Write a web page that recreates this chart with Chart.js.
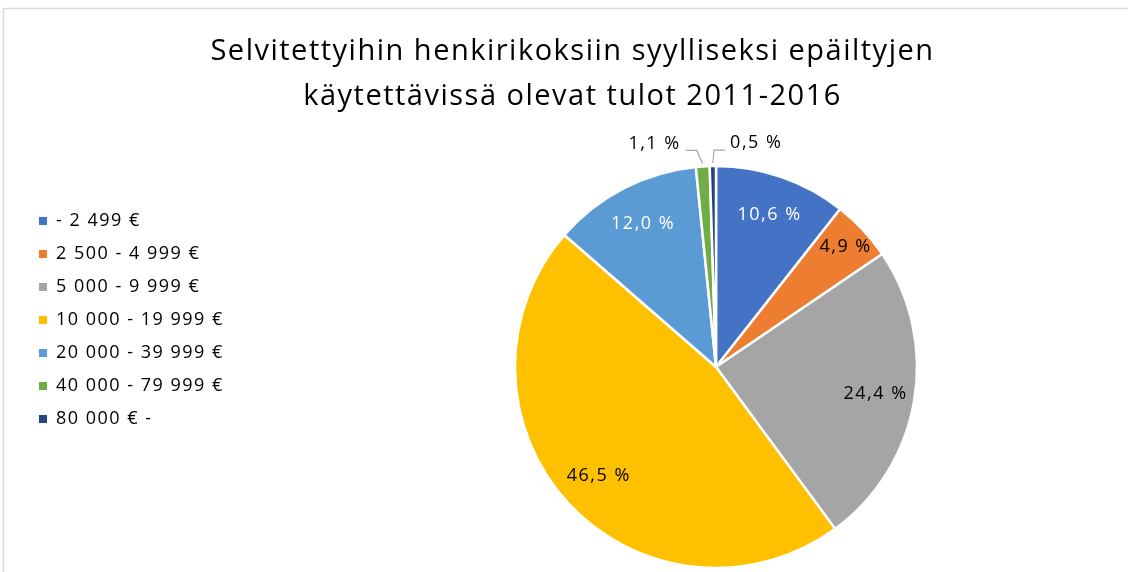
<!DOCTYPE html>
<html><head><meta charset="utf-8">
<script src="https://cdn.jsdelivr.net/npm/chart.js@4/dist/chart.umd.min.js"></script>
<style>html,body{margin:0;padding:0;background:#fff;overflow:hidden}#wrap{position:relative;width:1128px;height:572px}</style>
</head><body><div id="wrap"><canvas id="c" width="1128" height="572"></canvas></div>
<script>
const titleLines = ['Selvitettyihin henkirikoksiin syylliseksi epäiltyjen', 'käytettävissä olevat tulot 2011-2016'];
const categories = ['- 2 499 €', '2 500 - 4 999 €', '5 000 - 9 999 €', '10 000 - 19 999 €', '20 000 - 39 999 €', '40 000 - 79 999 €', '80 000 € -'];
const shares = [10.6, 4.9, 24.4, 46.5, 12.0, 1.1, 0.5];
const sliceColors = ['#4472C4', '#ED7D31', '#A5A5A5', '#FFC000', '#5B9BD5', '#70AD47', '#264478'];
const labelColors = ['#ffffff', '#000000', '#000000', '#000000', '#ffffff', '#000000', '#000000'];

const FONT = '"Open Sans", "Noto Sans", sans-serif';
const TRACKING = '1.5px';

const frame = {
  id: 'frame',
  beforeDraw(chart) {
    const ctx = chart.ctx;
    ctx.save();
    ctx.strokeStyle = '#d9d9d9';
    ctx.lineWidth = 1.5;
    ctx.beginPath();
    ctx.moveTo(3.5, 572);
    ctx.lineTo(3.5, 8.5);
    ctx.lineTo(1128, 8.5);
    ctx.stroke();
    ctx.restore();
    ctx.letterSpacing = TRACKING;
  }
};

const legendWidth = {
  id: 'legendWidth',
  beforeInit(chart) {
    const orig = chart.legend.fit;
    chart.legend.fit = function () { orig.call(this); this.width = 287; };
  }
};

const sliceLabels = {
  id: 'sliceLabels',
  afterDatasetsDraw(chart) {
    const ctx = chart.ctx;
    const meta = chart.getDatasetMeta(0);
    ctx.save();
    ctx.letterSpacing = TRACKING;
    ctx.font = '18px ' + FONT;
    ctx.textBaseline = 'middle';
    meta.data.forEach((arc, i) => {
      const p = arc.getProps(['x', 'y', 'startAngle', 'endAngle', 'outerRadius'], true);
      const mid = (p.startAngle + p.endAngle) / 2;
      const v = shares[i];
      const txt = v.toFixed(1).replace('.', ',') + ' %';
      const c = Math.cos(mid), s = Math.sin(mid);
      if (v >= 2) {
        const f = v < 6 ? 0.875 : 0.8;
        ctx.fillStyle = labelColors[i];
        ctx.textAlign = 'center';
        ctx.fillText(txt, p.x + c * p.outerRadius * f + 1, p.y + s * p.outerRadius * f);
      } else {
        const side = c < -0.03 ? -1 : 1;
        const r0 = p.outerRadius + 3, r1 = p.outerRadius + 16;
        const x0 = p.x + c * r0, y0 = p.y + s * r0;
        const x1 = p.x + c * r1 + (side < 0 ? -5 : 1.5), y1 = p.y + s * r1;
        const x2 = x1 + side * 11;
        ctx.strokeStyle = '#a6a6a6';
        ctx.lineWidth = 1.2;
        ctx.beginPath();
        ctx.moveTo(x0, y0); ctx.lineTo(x1, y1); ctx.lineTo(x2, y1);
        ctx.stroke();
        ctx.fillStyle = '#000';
        ctx.textAlign = side < 0 ? 'right' : 'left';
        ctx.fillText(txt, x2 + side * 5, y1 - 7);
      }
    });
    ctx.restore();
  }
};

new Chart(document.getElementById('c'), {
  type: 'pie',
  data: {
    labels: categories,
    datasets: [{
      data: shares,
      backgroundColor: sliceColors,
      borderColor: '#ffffff',
      borderWidth: 2.5,
      hoverOffset: 0,
      radius: 201
    }]
  },
  options: {
    responsive: false,
    animation: false,
    events: [],
    layout: { padding: { left: 24, top: 0, right: 7, bottom: 4 } },
    plugins: {
      title: {
        display: true,
        text: titleLines,
        color: '#000',
        font: { family: FONT, size: 29, weight: 'normal', lineHeight: '45px' },
        padding: { top: 29.5, bottom: 46.5 }
      },
      legend: {
        position: 'left',
        align: 'start',
        fullSize: false,
        title: { display: true, text: '', font: { size: 10, lineHeight: '31px' }, padding: 0 },
        labels: {
          boxWidth: 8,
          boxHeight: 8,
          padding: 15,
          color: '#000',
          font: { family: FONT, size: 18 },
          generateLabels(chart) {
            const base = Chart.controllers.doughnut.overrides.plugins.legend.labels.generateLabels(chart);
            return base.map(l => Object.assign(l, { lineWidth: 0, strokeStyle: 'rgba(0,0,0,0)' }));
          }
        }
      },
      tooltip: { enabled: false }
    }
  },
  plugins: [frame, legendWidth, sliceLabels]
});
</script>
</body></html>
